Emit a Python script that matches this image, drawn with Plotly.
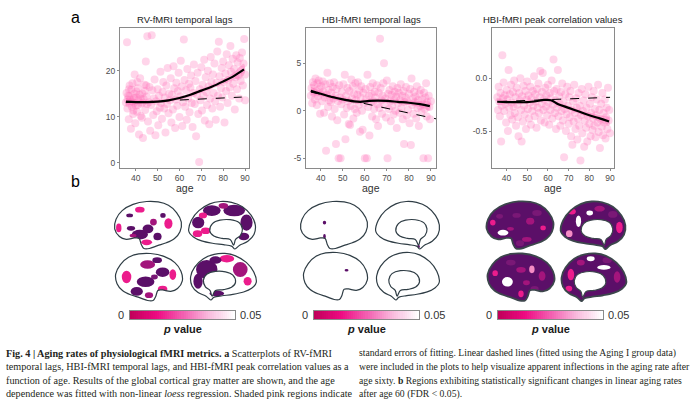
import plotly.graph_objects as go

W, H = 699, 401

# ---- panel a: scatter data (age, value) ----
rv_points = [
    (35.5, 13.1), (35.8, 15.2), (36.0, 26.2), (36.2, 11.8), (36.5, 14.6), (36.8, 9.5), (37.0, 12.9),
    (37.2, 16.8), (37.5, 13.7), (37.8, 7.4), (38.0, 15.9), (38.2, 12.2), (38.5, 17.3), (38.8, 10.6),
    (39.0, 14.1), (39.2, 13.0), (39.5, 19.2), (39.8, 8.6), (40.0, 12.4), (40.3, 15.5), (40.6, 11.1),
    (40.9, 16.2), (41.2, 13.6), (41.5, 6.2), (41.8, 14.8), (42.0, 18.4), (42.3, 10.2), (42.6, 12.9),
    (43.0, 15.1), (43.3, 5.4), (43.6, 13.9), (44.0, 17.0), (44.3, 11.5), (44.6, 22.0), (45.0, 14.4),
    (45.3, 27.5), (45.6, 9.0), (46.0, 13.2), (46.3, 16.5), (46.6, 7.0), (47.0, 12.6), (47.3, 27.7),
    (47.6, 15.8), (48.0, 10.4), (48.3, 14.0), (48.6, 18.1), (49.0, 6.0), (49.3, 13.4), (49.6, 11.2),
    (50.0, 16.0), (50.3, 8.2), (50.6, 14.6), (51.0, 12.0), (51.3, 19.8), (51.6, 13.0), (52.0, 9.6),
    (52.3, 15.4), (52.6, 17.6), (53.0, 11.8), (53.3, 14.2), (53.6, 6.6), (54.0, 16.8), (54.3, 12.8),
    (54.6, 20.6), (55.0, 10.8), (55.3, 15.0), (55.6, 13.6), (56.0, 18.4), (56.3, 8.8), (56.6, 14.8),
    (57.0, 11.6), (57.3, 21.0), (57.6, 16.2), (58.0, 7.6), (58.3, 13.8), (58.6, 17.4), (59.0, 12.4),
    (59.3, 15.6), (59.6, 19.6), (60.0, 10.0), (60.3, 14.4), (60.6, 22.2), (61.0, 16.6), (61.3, 8.0),
    (61.6, 13.2), (62.0, 26.8), (62.3, 18.0), (62.6, 12.2), (63.0, 15.8), (63.3, 9.4), (63.6, 20.4),
    (64.0, 14.0), (64.3, 17.2), (64.6, 11.0), (65.0, 16.4), (65.3, 19.0), (65.6, 13.0), (66.0, 7.8),
    (66.3, 15.2), (66.6, 21.4), (67.0, 12.8), (67.3, 17.8), (67.6, 5.8), (68.0, 14.8), (68.3, 19.6),
    (68.6, 10.6), (69.0, 0.2), (69.3, 16.0), (69.6, 13.6), (70.0, 20.8), (70.3, 11.4), (70.6, 17.0),
    (71.0, 14.6), (71.3, 22.4), (71.6, 9.2), (72.0, 18.6), (72.3, 15.4), (72.6, 12.6), (73.0, 20.0),
    (73.3, 16.6), (73.6, 8.4), (74.0, 14.0), (74.3, 23.0), (74.6, 17.6), (75.0, 11.8), (75.3, 19.2),
    (75.6, 15.2), (76.0, 21.6), (76.3, 13.4), (76.6, 9.4), (77.0, 17.4), (77.3, 24.2), (77.6, 14.6),
    (78.0, 26.3), (78.3, 18.8), (78.6, 12.2), (79.0, 16.2), (79.3, 20.6), (79.6, 14.2), (80.0, 22.0),
    (80.3, 17.6), (80.6, 8.8), (81.0, 19.4), (81.3, 15.6), (81.6, 23.6), (82.0, 13.0), (82.3, 18.0),
    (82.6, 21.2), (83.0, 16.4), (83.3, 25.4), (83.6, 19.8), (84.0, 14.6), (84.3, 22.6), (84.6, 17.2),
    (85.0, 20.4), (85.3, 11.6), (85.6, 18.6), (86.0, 23.4), (86.3, 16.0), (86.6, 21.8), (87.0, 19.0),
    (87.3, 14.0), (87.6, 22.8), (88.0, 17.8), (88.3, 20.2), (88.6, 24.0), (89.0, 16.8), (89.3, 21.6),
    (89.6, 26.9), (90.0, 19.2), (90.0, 13.6), (36.3, 13.8), (37.1, 14.5), (38.4, 13.3), (39.4, 15.0),
    (40.1, 14.2), (41.0, 12.6), (42.2, 14.0), (43.1, 13.1), (44.2, 15.6), (45.1, 12.8), (36.9, 16.0),
    (38.9, 11.4), (40.7, 17.6), (42.8, 9.8), (44.8, 16.8),
]

hbi_lag_points = [
    (35.5, 1.6), (35.8, 2.4), (36.1, 0.8), (36.4, 3.0), (36.7, 1.9), (37.0, 2.7), (37.3, 1.2),
    (37.6, 3.4), (37.9, 2.1), (38.2, 0.6), (38.5, 2.9), (38.8, 1.5), (39.1, 3.2), (39.4, 2.3),
    (39.7, -0.3), (40.0, 1.8), (40.3, 2.6), (40.6, 1.0), (40.9, 3.1), (41.2, 2.0), (41.5, -0.2),
    (41.8, 1.4), (42.1, 2.8), (42.4, -4.2), (42.7, 1.7), (43.0, 4.0), (43.3, 0.4), (43.6, 2.2),
    (43.9, 1.1), (44.2, 2.9), (44.5, 0.9), (44.8, 1.9), (45.1, -0.6), (45.4, 2.5), (45.7, 1.3),
    (46.0, 3.0), (46.3, 0.2), (46.6, 1.6), (46.9, -3.5), (47.2, 2.3), (47.5, -1.0), (47.8, 1.0),
    (48.1, -5.0), (48.4, 2.7), (48.7, 1.4), (49.0, -5.0), (49.3, 0.7), (49.6, 2.0), (50.0, 1.2),
    (50.3, 2.8), (50.6, -0.4), (50.9, 3.8), (51.2, -3.0), (51.5, 1.6), (51.8, 0.3), (52.1, 2.4),
    (52.4, 1.0), (52.7, -1.4), (53.0, 2.1), (53.3, -1.5), (53.6, 0.5), (53.9, 3.3), (54.2, 1.3),
    (54.5, 2.6), (54.8, -0.8), (55.1, 1.8), (55.4, 0.2), (55.7, 2.9), (56.0, 1.1), (56.3, -0.2),
    (56.6, 1.7), (56.9, 3.0), (57.2, 0.6), (57.5, 2.2), (57.8, -2.2), (58.1, 1.4), (58.4, 2.6),
    (58.7, 0.0), (59.0, -2.0), (59.3, 1.9), (59.6, 0.8), (60.0, -5.0), (60.3, 2.3), (60.6, 1.2),
    (60.9, -5.0), (61.2, 3.8), (61.5, 0.4), (61.8, 1.6), (62.1, -2.6), (62.4, 2.5), (62.7, 0.9),
    (63.0, 1.8), (63.3, -0.6), (63.6, 2.9), (63.9, 1.0), (64.2, 0.2), (64.5, 2.0), (64.8, 1.4),
    (65.1, -0.9), (65.4, 2.7), (65.7, 0.7), (66.0, -1.6), (66.3, 1.9), (66.6, 0.3), (66.9, 7.6),
    (67.2, 2.4), (67.5, 1.1), (67.8, -0.3), (68.1, 1.6), (68.4, 2.9), (68.7, 5.0), (69.0, 0.6),
    (69.3, 1.3), (69.6, -0.7), (70.0, 3.2), (70.3, -5.0), (70.6, 1.8), (70.9, 0.2), (71.2, 2.2),
    (71.5, 1.0), (71.8, -1.1), (72.1, 1.7), (72.4, 0.5), (72.7, 2.6), (73.0, -0.4), (73.3, 1.2),
    (73.6, 2.0), (73.9, 0.0), (74.2, 1.5), (74.5, -1.8), (74.8, 2.4), (75.1, 0.8), (75.4, 1.9),
    (75.7, -0.2), (76.0, 1.1), (76.3, 2.8), (76.6, 0.3), (76.9, 1.6), (77.2, -0.9), (77.5, 2.1),
    (77.8, -3.5), (78.1, 0.9), (78.4, 1.4), (78.7, 2.5), (79.0, -0.5), (79.3, 1.0), (79.6, 0.1),
    (80.0, 1.8), (80.3, -1.3), (80.6, 2.3), (80.9, -3.6), (81.2, 3.4), (81.5, 0.6), (81.8, 1.3),
    (82.1, -0.3), (82.4, 2.0), (82.7, 0.9), (83.0, 1.5), (83.3, -0.8), (83.6, 2.6), (83.9, 0.3),
    (84.2, 1.1), (84.5, -1.6), (84.8, 1.8), (85.1, 0.5), (85.4, 2.2), (85.7, -0.1), (86.0, 1.2),
    (86.3, 0.7), (86.6, -5.0), (86.9, 1.9), (87.2, 0.2), (87.5, 1.4), (87.8, 2.9), (88.1, -0.6),
    (88.4, 0.9), (88.7, -5.0), (89.0, 1.6), (89.3, 0.4), (89.6, -0.9), (90.0, 1.0),
]

hbi_corr_points = [
    (35.6, -0.18), (35.9, -0.30), (36.2, -0.08), (36.5, -0.22), (36.8, -0.36), (37.1, -0.14),
    (37.4, -0.60), (37.7, -0.26), (38.0, 0.22), (38.3, -0.19), (38.6, -0.04), (38.9, -0.31),
    (39.2, -0.16), (39.5, -0.24), (39.8, -0.42), (40.1, -0.11), (40.4, -0.20), (40.7, -0.50),
    (41.0, 0.08), (41.3, -0.28), (41.6, -0.15), (41.9, -0.35), (42.2, -0.06), (42.5, -0.23),
    (42.8, -0.39), (43.1, -0.13), (43.4, -0.27), (43.7, -0.02), (44.0, -0.33), (44.3, -0.18),
    (44.6, -0.45), (44.9, -0.09), (45.2, -0.25), (45.5, -0.37), (45.8, -0.55), (46.1, -0.14),
    (46.4, -0.21), (46.7, 0.00), (47.0, -0.30), (47.3, -0.60), (47.6, -0.17), (47.9, -0.41),
    (48.2, -0.07), (48.5, -0.26), (48.8, -0.34), (49.1, -0.12), (49.4, -0.48), (49.7, -0.20),
    (50.0, -0.03), (50.3, -0.29), (50.6, -0.16), (50.9, -0.38), (51.2, -0.23), (51.5, -0.08),
    (51.8, -0.44), (52.1, -0.19), (52.4, -0.31), (52.7, -0.12), (53.0, -0.26), (53.3, 0.02),
    (53.6, -0.36), (53.9, -0.15), (54.2, -0.22), (54.5, -0.47), (54.8, -0.10), (55.1, -0.28),
    (55.4, -0.05), (55.7, -0.33), (56.0, -0.18), (56.3, 0.07), (56.6, -0.40), (56.9, -0.24),
    (57.2, -0.13), (57.5, 0.05), (57.8, -0.30), (58.1, -0.20), (58.4, -0.42), (58.7, -0.09),
    (59.0, -0.27), (59.3, -0.16), (59.6, -0.35), (60.0, -0.06), (60.3, -0.23), (60.6, -0.44),
    (60.9, -0.14), (61.2, -0.30), (61.5, -0.19), (61.8, -0.02), (62.1, -0.38), (62.4, -0.25),
    (62.7, 0.18), (63.0, -0.12), (63.3, -0.33), (63.6, -0.21), (63.9, -0.48), (64.2, -0.10),
    (64.5, -0.28), (64.8, 0.08), (65.1, -0.36), (65.4, -0.17), (65.7, -0.24), (66.0, -0.45),
    (66.3, -0.13), (66.6, -0.31), (66.9, -0.05), (67.2, -0.40), (67.5, -0.22), (67.8, -0.75),
    (68.1, -0.29), (68.4, -0.15), (68.7, -0.50), (69.0, -0.34), (69.3, -0.08), (69.6, -0.26),
    (70.0, -0.43), (70.3, -0.18), (70.6, -0.37), (70.9, -0.12), (71.2, -0.55), (71.5, -0.30),
    (71.8, -0.63), (72.1, -0.22), (72.4, -0.41), (72.7, -0.06), (73.0, -0.33), (73.3, -0.48),
    (73.6, -0.19), (73.9, -0.28), (74.2, -0.58), (74.5, -0.38), (74.8, -0.14), (75.1, -0.45),
    (75.4, -0.26), (75.7, -0.78), (76.0, -0.35), (76.3, -0.10), (76.6, -0.52), (76.9, -0.31),
    (77.2, -0.21), (77.5, -0.65), (77.8, -0.40), (78.1, -0.15), (78.4, -0.47), (78.7, -0.28),
    (79.0, -0.60), (79.3, -0.36), (79.6, -0.08), (80.0, -0.43), (80.3, -0.24), (80.6, -0.55),
    (80.9, -0.33), (81.2, -0.18), (81.5, -0.49), (81.8, -0.38), (82.1, -0.12), (82.4, -0.45),
    (82.7, -0.29), (83.0, -0.56), (83.3, -0.35), (83.6, -0.20), (83.9, -0.42), (84.2, -0.06),
    (84.5, -0.51), (84.8, -0.30), (85.1, -0.66), (85.4, -0.39), (85.7, -0.24), (86.0, -0.46),
    (86.3, -0.14), (86.6, -0.54), (86.9, -0.33), (87.2, -0.42), (87.5, -0.20), (87.8, -0.57),
    (88.1, -0.37), (88.4, -0.28), (88.7, -0.48), (89.0, -0.09), (89.3, -0.40), (89.6, -0.30),
    (90.0, -0.52),
]

# loess fits (age, fit, half width of standard error band)
rv_fit_age = [35.5, 40, 45, 50, 55, 60, 65, 70, 75, 80, 85, 89.5]
rv_fit = [13.3, 13.2, 13.2, 13.3, 13.6, 14.1, 14.8, 15.7, 16.6, 17.7, 18.9, 20.3]
rv_se = [0.8, 0.45, 0.35, 0.35, 0.35, 0.35, 0.35, 0.4, 0.45, 0.55, 0.8, 1.2]
rv_lin_age = [35.5, 88.5]
rv_lin = [13.1, 14.3]

lag_fit_age = [35.5, 40, 45, 50, 55, 58, 62, 66, 70, 75, 80, 85, 89.5]
lag_fit = [2.1, 1.8, 1.45, 1.2, 1.0, 0.95, 1.05, 1.08, 1.05, 0.95, 0.85, 0.7, 0.5]
lag_se = [0.45, 0.25, 0.2, 0.2, 0.2, 0.2, 0.2, 0.2, 0.2, 0.22, 0.25, 0.3, 0.45]
lag_lin_age = [35.5, 92.3]
lag_lin = [1.97, -0.84]

corr_fit_age = [35.5, 40, 45, 50, 55, 58, 61.5, 65, 70, 75, 80, 85, 89.5]
corr_fit = [-0.222, -0.225, -0.226, -0.226, -0.215, -0.205, -0.208, -0.245, -0.28, -0.315, -0.35, -0.38, -0.41]
corr_se = [0.03, 0.015, 0.012, 0.012, 0.012, 0.012, 0.012, 0.015, 0.018, 0.02, 0.025, 0.03, 0.04]
corr_lin_age = [36, 90]
corr_lin = [-0.22, -0.18]

panel_titles = ["RV-fMRI temporal lags", "HBI-fMRI temporal lags", "HBI-fMRI peak correlation values"]
age_ticks = [40, 50, 60, 70, 80, 90]
rv_ticks = [0, 10, 20]
lag_ticks = [-5, 0, 5]
corr_ticks = [-0.5, 0.0]
corr_ticktext = ["-0.5", "0.0"]

# ---- panel b: p value colour bar ----
p_min, p_max = 0.0, 0.05
p_steps = [i * 0.001 for i in range(51)]
p_scale = [[0, "#c0005a"], [0.25, "#ee0a82"], [0.5, "#f35eb0"], [0.75, "#f9b8dc"], [1, "#ffffff"]]

caption_left = [
    "<b>Fig. 4 | Aging rates of physiological fMRI metrics. a</b> Scatterplots of RV-fMRI",
    "temporal lags, HBI-fMRI temporal lags, and HBI-fMRI peak correlation values as a",
    "function of age. Results of the global cortical gray matter are shown, and the age",
    "dependence was fitted with non-linear <i>loess</i> regression. Shaded pink regions indicate",
]
caption_right = [
    "standard errors of fitting. Linear dashed lines (fitted using the Aging I group data)",
    "were included in the plots to help visualize apparent inflections in the aging rate after",
    "age sixty. <b>b</b> Regions exhibiting statistically significant changes in linear aging rates",
    "after age 60 (FDR &lt; 0.05).",
]

PINK_PT = "rgba(255,105,180,0.28)"
BAND = "rgba(255,105,180,0.38)"


def px(x):
    return x / W


def py(y):
    return 1 - y / H


fig = go.Figure()

panels = [
    (rv_points, rv_fit_age, rv_fit, rv_se, rv_lin_age, rv_lin, "x", "y"),
    (hbi_lag_points, lag_fit_age, lag_fit, lag_se, lag_lin_age, lag_lin, "x2", "y2"),
    (hbi_corr_points, corr_fit_age, corr_fit, corr_se, corr_lin_age, corr_lin, "x3", "y3"),
]
for pts, fa, fv, se, la, lv, xa, ya in panels:
    fig.add_trace(go.Scatter(x=[p[0] for p in pts], y=[p[1] for p in pts], mode="markers",
                             marker=dict(size=8, color=PINK_PT, line=dict(width=0)),
                             xaxis=xa, yaxis=ya, showlegend=False, hoverinfo="skip"))
    upper = [f + s for f, s in zip(fv, se)]
    lower = [f - s for f, s in zip(fv, se)]
    fig.add_trace(go.Scatter(x=fa + fa[::-1], y=upper + lower[::-1], fill="toself",
                             fillcolor=BAND, line=dict(width=0, shape="spline"), mode="lines",
                             xaxis=xa, yaxis=ya, showlegend=False, hoverinfo="skip"))
    fig.add_trace(go.Scatter(x=la, y=lv, mode="lines", line=dict(color="black", width=1, dash="dash"),
                             xaxis=xa, yaxis=ya, showlegend=False))
    fig.add_trace(go.Scatter(x=fa, y=fv, mode="lines", line=dict(color="black", width=2.2, shape="spline"),
                             xaxis=xa, yaxis=ya, showlegend=False))

# colour bars
cbar_px = [(130, 235), (314, 419), (498, 603)]
for i in range(3):
    fig.add_trace(go.Heatmap(z=[p_steps], x=p_steps, y=[0], colorscale=p_scale, zmin=p_min, zmax=p_max,
                             showscale=False, xaxis="x%d" % (i + 4), yaxis="y%d" % (i + 4), hoverinfo="skip"))

axis_style = dict(showline=True, mirror=True, linecolor="#8a8a8a", linewidth=1, ticks="outside",
                  ticklen=2, tickcolor="#8a8a8a", showgrid=False, zeroline=False,
                  tickfont=dict(family="Liberation Sans", size=8.5, color="#4d4d4d"))
box_px = [(120, 249), (306, 436), (492, 614)]
y_ranges = [[-1.1, 29.3], [-6.02, 8.72], [-0.851, 0.478]]
x_ranges = [[32.8, 91.8], [33.3, 92.3], [33.0, 91.9]]
y_ticks = [(rv_ticks, [str(t) for t in rv_ticks]), (lag_ticks, [str(t) for t in lag_ticks]),
           (corr_ticks, corr_ticktext)]
layout_axes = {}
for i in range(3):
    n = "" if i == 0 else str(i + 1)
    layout_axes["xaxis" + n] = dict(axis_style, domain=[px(box_px[i][0]), px(box_px[i][1])],
                                    range=x_ranges[i], tickvals=age_ticks, anchor="y" + n)
    layout_axes["yaxis" + n] = dict(axis_style, domain=[py(168), py(28)], range=y_ranges[i],
                                    tickvals=y_ticks[i][0], ticktext=y_ticks[i][1], anchor="x" + n)
for i in range(3):
    n = str(i + 4)
    layout_axes["xaxis" + n] = dict(domain=[px(cbar_px[i][0]), px(cbar_px[i][1])], range=[-0.0005, 0.0505],
                                    showline=True, mirror=True, linecolor="#8a8a8a", linewidth=1,
                                    showticklabels=False, ticks="", showgrid=False, zeroline=False, anchor="y" + n)
    layout_axes["yaxis" + n] = dict(domain=[py(319), py(311)], range=[-0.5, 0.5],
                                    showline=True, mirror=True, linecolor="#8a8a8a", linewidth=1,
                                    showticklabels=False, ticks="", showgrid=False, zeroline=False, anchor="x" + n)

# ---- brain surface sketches (normalised outlines) ----
LAT = [(0.01, 0.58), (0.03, 0.38), (0.12, 0.20), (0.28, 0.07), (0.48, 0.01), (0.65, 0.02), (0.80, 0.09),
       (0.92, 0.24), (0.99, 0.44), (0.97, 0.64), (0.89, 0.78), (0.77, 0.87), (0.64, 0.93), (0.52, 0.99),
       (0.44, 0.99), (0.40, 0.90), (0.37, 0.78), (0.30, 0.77), (0.18, 0.80), (0.08, 0.74)]
MED = [(0.01, 0.62), (0.05, 0.40), (0.16, 0.20), (0.32, 0.06), (0.48, 0.01), (0.64, 0.03), (0.80, 0.12),
       (0.93, 0.30), (0.99, 0.50), (0.97, 0.70), (0.88, 0.84), (0.76, 0.92), (0.69, 1.00), (0.64, 0.94),
       (0.52, 0.91), (0.36, 0.88), (0.20, 0.83), (0.08, 0.75)]
HOLE = [(0.32, 0.62), (0.36, 0.47), (0.47, 0.40), (0.62, 0.39), (0.75, 0.45), (0.80, 0.58), (0.77, 0.72),
        (0.70, 0.80), (0.67, 0.92), (0.62, 0.80), (0.50, 0.78), (0.38, 0.73)]

D, M, P, L, WH, V = "#5b0f68", "#a3157c", "#ec1c8c", "#f48cc4", "#ffffff", "#7a1876"

brains = [
    # x0, y0, w, h, view, mirrored, base fill, patches (cx, cy, rx, ry, colour)
    (114, 201, 68, 48, "lat", False, WH, [(0.38, 0.18, 0.07, 0.06, P), (0.23, 0.3, 0.05, 0.04, D),
     (0.07, 0.56, 0.04, 0.09, P), (0.25, 0.57, 0.06, 0.05, D), (0.38, 0.7, 0.12, 0.1, D),
     (0.5, 0.58, 0.08, 0.09, D), (0.58, 0.44, 0.05, 0.07, M), (0.8, 0.47, 0.06, 0.11, P),
     (0.64, 0.74, 0.06, 0.08, D), (0.48, 0.86, 0.08, 0.06, P), (0.28, 0.72, 0.05, 0.04, M),
     (0.72, 0.3, 0.04, 0.05, D)]),
    (188, 201, 68, 48, "med", False, WH, [(0.35, 0.2, 0.13, 0.11, D), (0.68, 0.2, 0.16, 0.12, D),
     (0.86, 0.45, 0.09, 0.17, D), (0.15, 0.45, 0.09, 0.12, D), (0.14, 0.68, 0.07, 0.07, P),
     (0.26, 0.62, 0.07, 0.07, P), (0.52, 0.1, 0.07, 0.06, M), (0.82, 0.74, 0.08, 0.08, D),
     (0.22, 0.3, 0.06, 0.06, P)]),
    (115, 253, 68, 48, "lat", True, WH, [(0.3, 0.4, 0.1, 0.1, D), (0.52, 0.24, 0.11, 0.09, M),
     (0.55, 0.6, 0.13, 0.11, D), (0.68, 0.8, 0.09, 0.09, D), (0.83, 0.5, 0.07, 0.13, P),
     (0.15, 0.45, 0.05, 0.11, P), (0.38, 0.15, 0.07, 0.06, D), (0.3, 0.75, 0.07, 0.07, P),
     (0.5, 0.88, 0.06, 0.06, M), (0.42, 0.5, 0.05, 0.05, V)]),
    (190, 253, 67, 47, "med", True, WH, [(0.75, 0.35, 0.16, 0.2, D), (0.25, 0.35, 0.11, 0.16, M),
     (0.45, 0.12, 0.11, 0.08, P), (0.62, 0.15, 0.09, 0.08, D), (0.88, 0.6, 0.07, 0.16, D),
     (0.6, 0.86, 0.11, 0.06, D), (0.14, 0.6, 0.06, 0.09, P)]),
    (300, 201, 68, 48, "lat", False, WH, [(0.36, 0.45, 0.025, 0.04, D), (0.36, 0.74, 0.02, 0.05, D)]),
    (375, 201, 65, 48, "med", False, WH, [(0.67, 0.95, 0.02, 0.04, D)]),
    (303, 252, 65, 48, "lat", True, WH, [(0.33, 0.38, 0.03, 0.025, D)]),
    (376, 252, 64, 48, "med", True, WH, []),
    (486, 201, 68, 48, "lat", False, D, [(0.25, 0.66, 0.08, 0.06, WH), (0.1, 0.45, 0.04, 0.06, P),
     (0.65, 0.42, 0.06, 0.07, M), (0.84, 0.56, 0.04, 0.05, P), (0.36, 0.58, 0.05, 0.04, M),
     (0.6, 0.8, 0.07, 0.05, M), (0.45, 0.3, 0.06, 0.05, V), (0.2, 0.32, 0.05, 0.05, V),
     (0.75, 0.25, 0.07, 0.06, V), (0.5, 0.88, 0.06, 0.06, V)]),
    (560, 201, 66, 48, "med", False, D, [(0.28, 0.42, 0.04, 0.12, WH), (0.18, 0.22, 0.06, 0.06, P),
     (0.6, 0.16, 0.08, 0.06, M), (0.9, 0.55, 0.05, 0.12, P), (0.14, 0.68, 0.05, 0.07, L),
     (0.45, 0.25, 0.05, 0.05, WH), (0.8, 0.28, 0.07, 0.07, V)]),
    (487, 253, 68, 48, "lat", True, D, [(0.34, 0.34, 0.04, 0.08, L), (0.7, 0.6, 0.08, 0.1, WH),
     (0.88, 0.42, 0.04, 0.06, P), (0.19, 0.48, 0.05, 0.1, M), (0.5, 0.35, 0.07, 0.06, M),
     (0.5, 0.85, 0.04, 0.07, P), (0.42, 0.62, 0.05, 0.05, M), (0.65, 0.2, 0.07, 0.06, V),
     (0.3, 0.75, 0.06, 0.06, V)]),
    (561, 253, 66, 48, "med", True, D, [(0.35, 0.3, 0.1, 0.05, WH), (0.85, 0.45, 0.05, 0.12, P),
     (0.7, 0.2, 0.06, 0.06, M), (0.15, 0.5, 0.05, 0.12, M), (0.55, 0.12, 0.06, 0.05, WH),
     (0.88, 0.74, 0.05, 0.06, P), (0.3, 0.15, 0.07, 0.06, V)]),
]


def smooth(pts):
    n = len(pts)
    d = "M%.5f,%.5f" % pts[0]
    for i in range(n):
        p0, p1, p2, p3 = pts[(i - 1) % n], pts[i], pts[(i + 1) % n], pts[(i + 2) % n]
        c1 = (p1[0] + (p2[0] - p0[0]) / 6, p1[1] + (p2[1] - p0[1]) / 6)
        c2 = (p2[0] - (p3[0] - p1[0]) / 6, p2[1] - (p3[1] - p1[1]) / 6)
        d += " C%.5f,%.5f %.5f,%.5f %.5f,%.5f" % (c1 + c2 + p2)
    return d + " Z"


def area(pts):
    return sum(pts[i][0] * pts[(i + 1) % len(pts)][1] - pts[(i + 1) % len(pts)][0] * pts[i][1]
               for i in range(len(pts)))


shapes = []
outlines = []
for x0, y0, w, h, view, mir, base, patches in brains:
    def tr(u, v):
        uu = 1 - u if mir else u
        return (px(x0 + uu * w), py(y0 + v * h))
    outer = [tr(u, v) for u, v in (LAT if view == "lat" else MED)]
    shapes.append(dict(type="path", path=smooth(outer), xref="paper", yref="paper",
                       fillcolor=base, line=dict(width=0), layer="above"))
    for cx, cy, rx, ry, col in patches:
        a, b = tr(cx - rx, cy - ry), tr(cx + rx, cy + ry)
        shapes.append(dict(type="circle", xref="paper", yref="paper", x0=a[0], x1=b[0], y0=a[1], y1=b[1],
                           fillcolor=col, line=dict(width=0), layer="above"))
    # white mask outside the outline, to trim the patches
    rect = [(px(x0 - 2), py(y0 - 2)), (px(x0 + w + 2), py(y0 - 2)),
            (px(x0 + w + 2), py(y0 + h + 2)), (px(x0 - 2), py(y0 + h + 2))]
    ring = outer if area(outer) * area(rect) < 0 else outer[::-1]
    rect_d = "M%.5f,%.5f L%.5f,%.5f L%.5f,%.5f L%.5f,%.5f Z " % (rect[0] + rect[1] + rect[2] + rect[3])
    shapes.append(dict(type="path", path=rect_d + smooth(ring), xref="paper", yref="paper",
                       fillcolor="white", line=dict(width=0), layer="above"))
    edge = "#2f3d45" if base == WH else "#3c464c"
    outlines.append(dict(type="path", path=smooth(outer), xref="paper", yref="paper",
                         line=dict(color=edge, width=1.2 if base == WH else 1.8), layer="above"))
    if view == "med":
        inner = [tr(u, v) for u, v in HOLE]
        outlines.append(dict(type="path", path=smooth(inner), xref="paper", yref="paper",
                             fillcolor="white", line=dict(color=edge, width=1.2), layer="above"))
shapes += outlines

# ---- texts ----
ann = []
sans = "Liberation Sans"
ann.append(dict(x=px(75), y=py(18), text="a", font=dict(family=sans, size=16, color="black")))
ann.append(dict(x=px(75), y=py(182), text="b", font=dict(family=sans, size=16, color="black")))
for i in range(3):
    cx = (box_px[i][0] + box_px[i][1]) / 2
    ann.append(dict(x=px(cx), y=py(19), text=panel_titles[i], font=dict(family=sans, size=9.5, color="#1a1a1a")))
    ann.append(dict(x=px(cx), y=py(188), text="age", font=dict(family=sans, size=10.5, color="#333333")))
    c0, c1 = cbar_px[i]
    ann.append(dict(x=px(c0 - 4), y=py(315), text="0", xanchor="right",
                    font=dict(family=sans, size=11, color="#333333")))
    ann.append(dict(x=px(c1 + 3), y=py(315), text="0.05", xanchor="left",
                    font=dict(family=sans, size=11, color="#333333")))
    ann.append(dict(x=px((c0 + c1) / 2), y=py(329), text="<b><i>p</i> value</b>",
                    font=dict(family=sans, size=11, color="#1a1a1a")))
line_y = [353, 366.5, 380, 393.5]
serif = "Liberation Serif"
for k in range(4):
    ann.append(dict(x=px(4), y=py(line_y[k]), text=caption_left[k], xanchor="left",
                    font=dict(family=serif, size=10.2, color="#231f20")))
    ann.append(dict(x=px(357), y=py(line_y[k]), text=caption_right[k], xanchor="left",
                    font=dict(family=serif, size=9.7, color="#231f20")))
for a in ann:
    a.update(xref="paper", yref="paper", showarrow=False, yanchor="middle")
    a.setdefault("xanchor", "center")

fig.update_layout(width=W, height=H, margin=dict(l=0, r=0, t=0, b=0), paper_bgcolor="white",
                  plot_bgcolor="white", showlegend=False, shapes=shapes, annotations=ann, **layout_axes)

# the page body has a default 8px margin; drop it so the figure fills the window
fig.write_html("out.html", config={"displayModeBar": False},
               post_script="document.body.style.margin='0';")
